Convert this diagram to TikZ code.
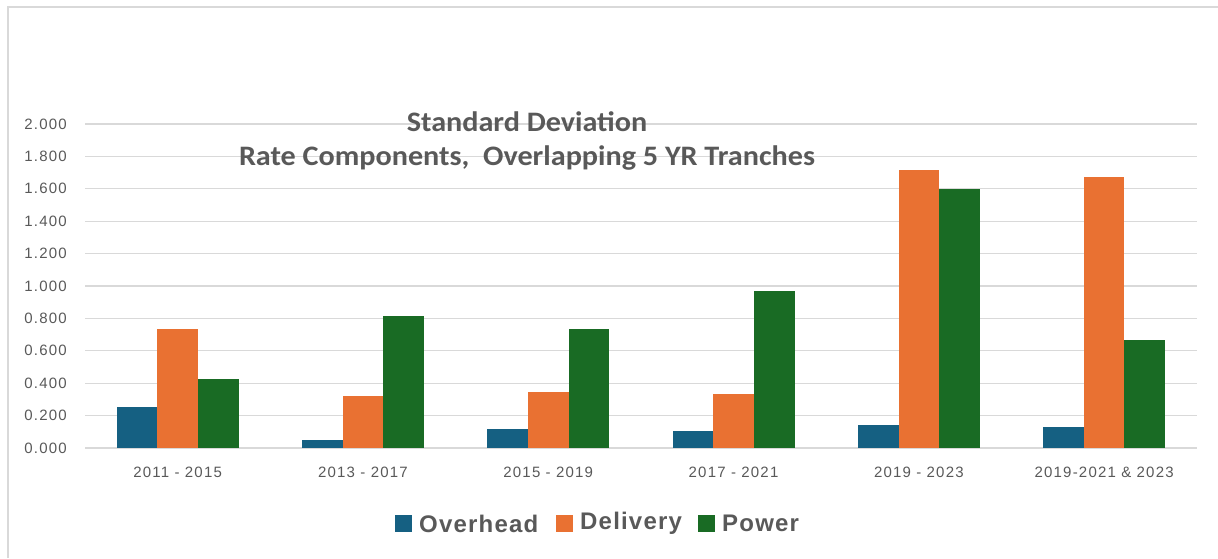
\documentclass[tikz,border=0pt]{standalone}
\usepackage{fontspec}
\setmainfont{Liberation Sans}
\newfontfamily\tickfont[LetterSpace=8]{Liberation Sans}
\newfontfamily\legfont[LetterSpace=5]{Liberation Sans}
\newfontfamily\titlefont[FakeStretch=1.07]{Carlito}
\definecolor{cOver}{HTML}{156082}
\definecolor{cDel}{HTML}{E97132}
\definecolor{cPow}{HTML}{196B24}
\definecolor{cGrid}{HTML}{D9D9D9}
\definecolor{cText}{HTML}{595959}
\tikzset{
  gridline/.style={draw=cGrid, line width=1.3pt},
  frameline/.style={draw=cGrid, line width=1.5pt},
  ticklab/.style={text=cText, font=\tickfont\fontsize{15}{18}\selectfont, inner sep=0pt},
  catlab/.style={text=cText, font=\tickfont\fontsize{15}{18}\selectfont, inner sep=0pt},
  titlelab/.style={text=cText, font=\titlefont\bfseries\fontsize{28.2}{32}\selectfont, inner sep=0pt},
  leglab/.style={text=cText, font=\legfont\bfseries\fontsize{24}{28}\selectfont, inner sep=0pt, anchor=west},
  bar/.style={draw=white, line width=0.4pt},
}
\begin{document}
\begin{tikzpicture}[x=1pt,y=-1pt]
\useasboundingbox (0,0) rectangle (1218,558);
\fill[white] (0,0) rectangle (1218,558);
\draw[frameline] (8,558) -- (8,7) -- (1218,7);
% grid and y labels
\foreach \k/\lab in {0/0.000,1/0.200,2/0.400,3/0.600,4/0.800,5/1.000,6/1.200,7/1.400,8/1.600,9/1.800,10/2.000}{
  \draw[gridline] (85,{448-32.4*\k}) -- (1197,{448-32.4*\k});
  \node[ticklab, anchor=east] (y\k) at (67,{448-32.4*\k}) {\lab};
}
% bars
\foreach \i/\a/\b/\c/\lab in {0/0.252/0.735/0.426/2011 - 2015, 1/0.049/0.319/0.817/2013 - 2017, 2/0.117/0.346/0.733/2015 - 2019, 3/0.102/0.331/0.968/2017 - 2021, 4/0.144/1.714/1.597/2019 - 2023, 5/0.130/1.675/0.667/2019-2021 \& 2023}{
  \pgfmathsetmacro{\cx}{85+185.3*(\i+0.5)}
  \fill[cOver] ({\cx-61},448) rectangle ({\cx-20.3},{448-162*\a});
  \fill[cDel] ({\cx-20.3},448) rectangle ({\cx+20.3},{448-162*\b});
  \fill[cPow] ({\cx+20.3},448) rectangle ({\cx+61},{448-162*\c});
  \node[catlab] (x\i) at (\cx,472) {\lab};
}
% title
\node[titlelab] (t1) at (527,122) {Standard Deviation};
\node[titlelab] (t2) at (527,158) {Rate Components,~ Overlapping 5 YR Tranches};
% legend
\fill[cOver] (395,515) rectangle (412,532);
\node[leglab] (l1) at (419,523.5) {Overhead};
\fill[cDel] (556,515) rectangle (573,532);
\node[leglab] (l2) at (580,523.5) {Delivery};
\fill[cPow] (698,515) rectangle (715,532);
\node[leglab] (l3) at (722,523.5) {Power};
\end{tikzpicture}
\end{document}
